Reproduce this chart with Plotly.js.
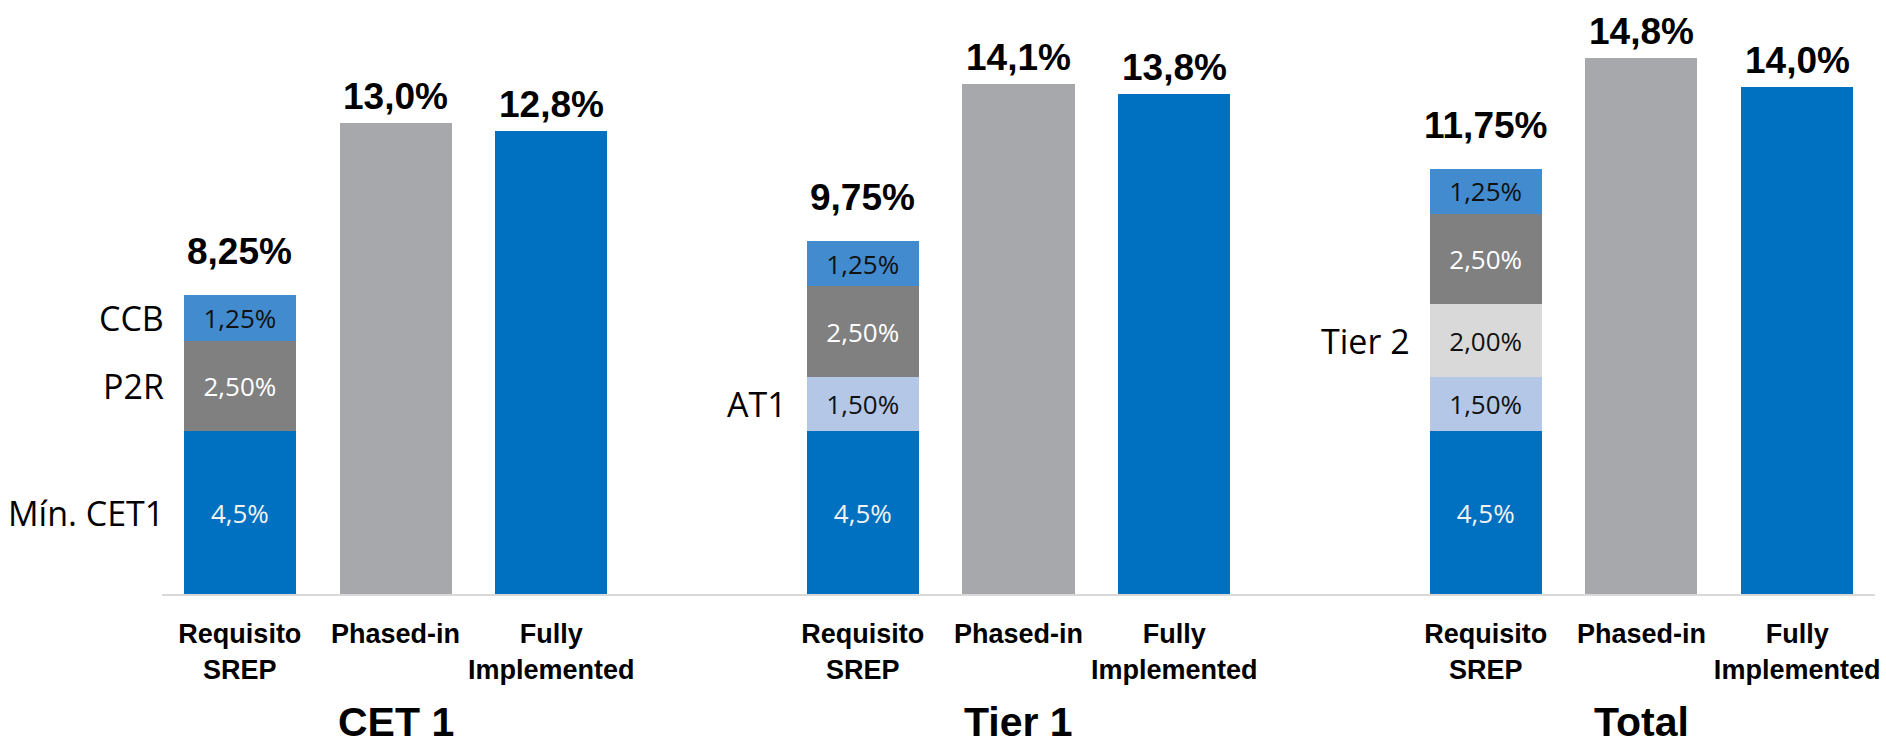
<!DOCTYPE html>
<html>
<head>
<meta charset="utf-8">
<script src="https://cdn.plot.ly/plotly-3.0.1.min.js"></script>
<style>html,body{margin:0;padding:0;background:#fff;}#chart{width:1886px;height:747px;}</style>
</head>
<body>
<div id="chart"></div>
<script>
// ---- data ----
const groups = ['CET 1', 'Tier 1', 'Total'];
const barTypes = ['Requisito<br>SREP', 'Phased-in', 'Fully<br>Implemented'];
// SREP requirement components (bottom to top)
const minCET1 = [4.5, 4.5, 4.5];
const at1 = [0, 1.5, 1.5];
const tier2 = [0, 0, 2.0];
const p2r = [2.5, 2.5, 2.5];
const ccb = [1.25, 1.25, 1.25];
const phasedIn = [13.0, 14.1, 14.8];
const fullyImpl = [12.8, 13.8, 14.0];
const segmentNames = ['Mín. CET1', 'AT1', 'Tier 2', 'P2R', 'CCB'];
const segmentDecimals = [1, 2, 2, 2, 2];
const sideLabelGroup = [0, 1, 2, 0, 0];

// ---- styles ----
const segStyle = {
  'Mín. CET1': {color: '#0070C0', text: '#F2F2F2'},
  'AT1': {color: '#B4C7E7', text: '#111111'},
  'Tier 2': {color: '#D9D9D9', text: '#111111'},
  'P2R': {color: '#808080', text: '#FFFFFF'},
  'CCB': {color: '#428BCF', text: '#111111'}
};
const PHASED_COLOR = '#A7A8AB';
const FULLY_COLOR = '#0070C0';
const SANS = 'Open Sans, Noto Sans, sans-serif';
const BOLD = 'Liberation Sans, Arial, sans-serif';
const NARROW = 'Liberation Sans Narrow, Arial Narrow, Liberation Sans, sans-serif';

const slot = (g, j) => g * 4 + j;
const fmt = (v, d) => v.toFixed(d).replace('.', ',');

const segValues = [minCET1, at1, tier2, p2r, ccb];
const traces = [];
segValues.forEach((vals, s) => {
  const name = segmentNames[s];
  traces.push({
    type: 'bar', name: name,
    x: groups.map((_, g) => slot(g, 0)),
    y: vals,
    text: vals.map(v => v ? fmt(v, segmentDecimals[s]) + '%' : ''),
    textposition: 'inside', insidetextanchor: 'middle', constraintext: 'none',
    textangle: 0,
    textfont: {family: SANS, size: 26, color: segStyle[name].text},
    marker: {color: segStyle[name].color, line: {width: 0}},
    hoverinfo: 'skip', showlegend: false
  });
});
traces.push({
  type: 'bar', name: 'Phased-in',
  x: groups.map((_, g) => slot(g, 1)), y: phasedIn,
  marker: {color: PHASED_COLOR}, hoverinfo: 'skip', showlegend: false
});
traces.push({
  type: 'bar', name: 'Fully Implemented',
  x: groups.map((_, g) => slot(g, 2)), y: fullyImpl,
  marker: {color: FULLY_COLOR}, hoverinfo: 'skip', showlegend: false
});

const annotations = [];
groups.forEach((grp, g) => {
  const total = segValues.reduce((a, arr) => a + arr[g], 0);
  annotations.push({x: slot(g, 0), y: total, text: fmt(total, 2) + '%', showarrow: false,
    yanchor: 'bottom', yshift: 21, font: {family: BOLD, size: 37, color: '#000', weight: 'bold'}});
  annotations.push({x: slot(g, 1), y: phasedIn[g], text: fmt(phasedIn[g], 1) + '%', showarrow: false,
    yanchor: 'bottom', yshift: 4, font: {family: BOLD, size: 37, color: '#000', weight: 'bold'}});
  annotations.push({x: slot(g, 2), y: fullyImpl[g], text: fmt(fullyImpl[g], 1) + '%', showarrow: false,
    yanchor: 'bottom', yshift: 4, font: {family: BOLD, size: 37, color: '#000', weight: 'bold'}});
  annotations.push({x: slot(g, 1), xref: 'x', y: 0, yref: 'paper', text: grp, showarrow: false,
    yanchor: 'middle', yshift: -128, font: {family: BOLD, size: 41, color: '#000', weight: 'bold'}});
});
// side labels
segmentNames.forEach((name, s) => {
  const g = sideLabelGroup[s];
  let base = 0;
  for (let k = 0; k < s; k++) base += segValues[k][g];
  annotations.push({x: slot(g, 0) - 0.5, y: base + segValues[s][g] / 2, text: name, showarrow: false,
    xanchor: 'right', yanchor: 'middle', xshift: 4, font: {family: SANS, size: 34, color: '#000'}});
});

const tickvals = [], ticktext = [];
groups.forEach((_, g) => barTypes.forEach((t, j) => { tickvals.push(slot(g, j)); ticktext.push(t); }));

const layout = {
  width: 1886, height: 747, autosize: false,
  margin: {l: 162, r: 11, t: 0, b: 153, pad: 0},
  paper_bgcolor: '#fff', plot_bgcolor: '#fff',
  barmode: 'stack', bargap: 0.28,
  showlegend: false,
  xaxis: {range: [-0.5, 10.5], tickmode: 'array', tickvals: tickvals, ticktext: ticktext,
    ticks: '', showgrid: false, zeroline: false, showline: true, linecolor: '#D9D9D9', linewidth: 2,
    tickfont: {family: NARROW, size: 27, color: '#000', weight: 'bold'}, ticklabelstandoff: 15,
    fixedrange: true},
  yaxis: {range: [0, 594 / 36.2], showgrid: false, zeroline: false, showticklabels: false,
    showline: false, ticks: '', fixedrange: true},
  annotations: annotations
};
Plotly.newPlot('chart', traces, layout, {displayModeBar: false, staticPlot: true});
</script>
</body>
</html>
